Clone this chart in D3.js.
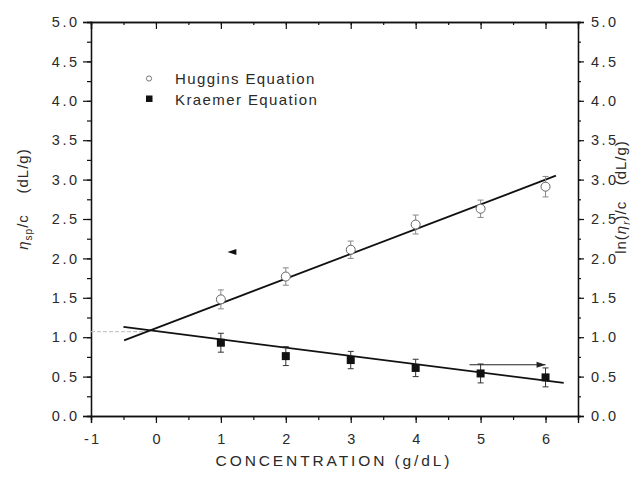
<!DOCTYPE html>
<html><head><meta charset="utf-8">
<script src="https://cdn.jsdelivr.net/npm/d3@7"></script>
<style>
body{margin:0;background:#fff;}
text{font-family:"Liberation Sans",Arial,sans-serif;fill:#2a2a2a;}
</style></head>
<body><svg id="chart" width="633" height="477"></svg>
<script>
// ---- data ----
const concentration = [1, 2, 3, 4, 5, 6];
const hugginsValues = [1.48, 1.77, 2.11, 2.43, 2.63, 2.91];
const hugginsErr    = [0.12, 0.11, 0.11, 0.12, 0.11, 0.13];
const kraemerValues = [0.93, 0.76, 0.71, 0.61, 0.54, 0.49];
const kraemerErr    = [0.12, 0.12, 0.11, 0.11, 0.12, 0.12];
const hugginsFit = [[-0.49, 0.96], [6.16, 3.05]];
const kraemerFit = [[-0.5, 1.13], [6.28, 0.42]];
const interceptGuide = [[-1, 1.07], [-0.08, 1.07]];
const xTicks = [-1, 0, 1, 2, 3, 4, 5, 6];
const yTicks = [0, 0.5, 1, 1.5, 2, 2.5, 3, 3.5, 4, 4.5, 5];
const legendLabels = ["Huggins Equation", "Kraemer Equation"];
const leftArrow = [[1.24, 2.08], [1.1, 2.08]];
const rightArrow = [[4.83, 0.65], [6.0, 0.65]];

const svg = d3.select("#chart");
const L = 91, T = 22, R = 578, B = 416;
const x = d3.scaleLinear().domain([-1, 6.5]).range([L, R]);
const y = d3.scaleLinear().domain([0, 5]).range([B, T]);

const g = svg.append("g");
const minorX = d3.range(-1, 6.51, 0.5);
const minorY = d3.range(0, 5.01, 0.25);

function styleAxis(sel){
  sel.selectAll("path.domain").attr("stroke","#111").attr("stroke-width",1.3);
  sel.selectAll(".tick line").attr("stroke","#111").attr("stroke-width",1.2);
}
// minor ticks
g.append("g").attr("transform",`translate(0,${B})`)
 .call(d3.axisBottom(x).tickValues(minorX).tickSize(4).tickFormat(""))
 .call(styleAxis);
g.append("g").attr("transform",`translate(0,${T})`)
 .call(d3.axisBottom(x).tickValues(minorX).tickSize(3).tickFormat(""))
 .call(styleAxis);
g.append("g").attr("transform",`translate(${L},0)`)
 .call(d3.axisLeft(y).tickValues(minorY).tickSize(4).tickFormat(""))
 .call(styleAxis);
g.append("g").attr("transform",`translate(${R},0)`)
 .call(d3.axisRight(y).tickValues(minorY).tickSize(3).tickFormat(""))
 .call(styleAxis);

// major
const fmt = d3.format(".1f");
const xb = g.append("g").attr("transform",`translate(0,${B})`)
 .call(d3.axisBottom(x).tickValues(xTicks).tickSize(7).tickPadding(11).tickFormat(d=>String(d)))
 .call(styleAxis);
xb.selectAll("text").attr("font-size",14.5).attr("fill","#2a2a2a").style("font-family","Liberation Sans, Arial").attr("letter-spacing","2px").attr("dx","1px");
g.append("g").attr("transform",`translate(0,${T})`)
 .call(d3.axisBottom(x).tickValues(xTicks).tickSize(7).tickFormat(""))
 .call(styleAxis);
const yl = g.append("g").attr("transform",`translate(${L},0)`)
 .call(d3.axisLeft(y).tickValues(yTicks).tickSize(8).tickPadding(6).tickFormat(fmt))
 .call(styleAxis);
yl.selectAll("text").attr("font-size",14.5).attr("fill","#2a2a2a").style("font-family","Liberation Sans, Arial").attr("letter-spacing","2.5px").attr("dx","2.5px");
const yr = g.append("g").attr("transform",`translate(${R},0)`)
 .call(d3.axisRight(y).tickValues(yTicks).tickSize(6).tickPadding(7).tickFormat(fmt))
 .call(styleAxis);
yr.selectAll("text").attr("font-size",14.5).attr("fill","#2a2a2a").style("font-family","Liberation Sans, Arial").attr("letter-spacing","2.5px");

// guide line
const line = d3.line().x(d=>x(d[0])).y(d=>y(d[1]));
g.append("path").attr("d",line(interceptGuide)).attr("stroke","#bbb").attr("stroke-width",1)
 .attr("stroke-dasharray","4,2").attr("fill","none");

// fit lines
g.append("path").attr("d",line(hugginsFit)).attr("stroke","#111").attr("stroke-width",1.8).attr("fill","none");
g.append("path").attr("d",line(kraemerFit)).attr("stroke","#111").attr("stroke-width",1.8).attr("fill","none");

// error bars
function errBars(vals, errs, color){
  const eg = g.append("g").attr("stroke",color).attr("stroke-width",1).attr("fill","none");
  concentration.forEach((c,i)=>{
    const cx = x(c), y1 = y(vals[i]+errs[i]), y0 = y(vals[i]-errs[i]);
    eg.append("line").attr("x1",cx).attr("x2",cx).attr("y1",y1).attr("y2",y0);
    eg.append("line").attr("x1",cx-3).attr("x2",cx+3).attr("y1",y1).attr("y2",y1);
    eg.append("line").attr("x1",cx-3).attr("x2",cx+3).attr("y1",y0).attr("y2",y0);
  });
}
errBars(hugginsValues, hugginsErr, "#888");
errBars(kraemerValues, kraemerErr, "#333");

// markers
g.selectAll("circle.h").data(concentration).enter().append("circle")
 .attr("cx",d=>x(d)).attr("cy",(d,i)=>y(hugginsValues[i])).attr("r",4.5)
 .attr("fill","#fff").attr("stroke","#666").attr("stroke-width",1);
g.selectAll("rect.k").data(concentration).enter().append("rect")
 .attr("x",d=>x(d)-4).attr("y",(d,i)=>y(kraemerValues[i])-4).attr("width",8).attr("height",8)
 .attr("fill","#111");

// arrows
function arrowHead(p, dir, len, half){
  const tx = x(p[0]), ty = y(p[1]);
  return [[tx,ty],[tx-dir*len,ty-half],[tx-dir*len,ty+half]];
}
const la = arrowHead(leftArrow[1], -1, 9, 3);
g.append("polygon").attr("points",la.map(p=>p.join(",")).join(" ")).attr("fill","#111");
g.append("path").attr("d",line(rightArrow)).attr("stroke","#222").attr("stroke-width",1);
const ra = arrowHead(rightArrow[1], 1, 9, 3);
g.append("polygon").attr("points",ra.map(p=>p.join(",")).join(" ")).attr("fill","#222");

// legend
const leg = g.append("g");
leg.append("circle").attr("cx",149).attr("cy",78.5).attr("r",2.6).attr("fill","#fff").attr("stroke","#777").attr("stroke-width",1);
leg.append("rect").attr("x",146).attr("y",95.5).attr("width",6.5).attr("height",6.5).attr("fill","#111");
legendLabels.forEach((t,i)=>{
  leg.append("text").attr("x",175).attr("y",83.5+i*21).attr("font-size",15).attr("letter-spacing","1.4px").text(t);
});

// axis titles
svg.append("text").attr("x",334).attr("y",466).attr("text-anchor","middle").attr("font-size",15.5)
 .attr("letter-spacing","2.9px").text("CONCENTRATION (g/dL)");

const lt = svg.append("text").attr("transform","translate(28,199) rotate(-90)").attr("text-anchor","middle")
 .attr("font-size",15).attr("letter-spacing","1px").attr("xml:space","preserve");
lt.append("tspan").attr("font-style","italic").text("η");
lt.append("tspan").attr("font-size",10).attr("dy",4).text("sp");
lt.append("tspan").attr("dy",-4).text("/c    (dL/g)");

const rt = svg.append("text").attr("transform","translate(626,197) rotate(-90)").attr("text-anchor","middle")
 .attr("font-size",15).attr("letter-spacing","1px").attr("xml:space","preserve");
rt.append("tspan").text("ln(");
rt.append("tspan").attr("font-style","italic").text("η");
rt.append("tspan").attr("font-size",10).attr("dy",4).attr("font-style","italic").text("r");
rt.append("tspan").attr("dy",-4).text(")/c   (dL/g)");
</script></body></html>
